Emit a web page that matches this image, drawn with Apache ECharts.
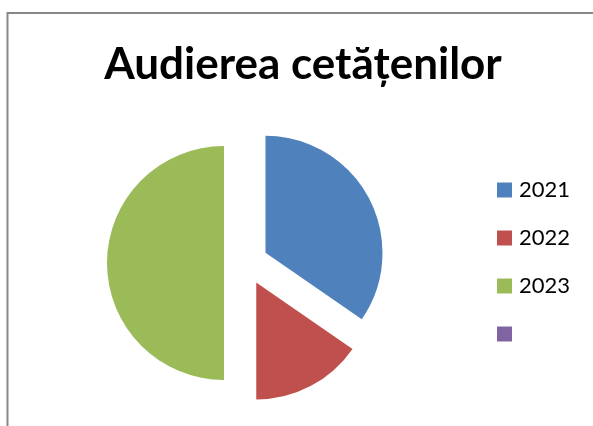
<!DOCTYPE html>
<html lang="ro">
<head>
	<meta charset="UTF-8">
	<title>Audierea cetățenilor</title>
	<style>
		html, body { margin: 0; padding: 0; background: #fff; }
	</style>
</head>
<body>
	<div id="chart" style="width:593px;height:426px;"></div>
	<script src="https://cdn.jsdelivr.net/npm/echarts@6/dist/echarts.min.js"></script>
	<script>
		// date
		const years = ['2021', '2022', '2023', ' '];
		const values = [9, 4, 13, 0];
		const colors = ['#4F81BD', '#C0504D', '#9BBB59', '#8064A2'];
		const exploded = [true, true, true, false];

		let myChart = echarts.init(document.getElementById('chart'));

		let pieData = years.map(function (name, i) {
			return {
				name: name,
				value: values[i],
				selected: exploded[i],
				itemStyle: { color: colors[i] }
			};
		});

		let option = {
			animation: false,
			backgroundColor: '#fff',
			title: {
				text: 'Audierea cetățenilor',
				left: 303,
				textAlign: 'center',
				top: 43,
				padding: 0,
				textStyle: {
					fontFamily: 'Lato',
					fontWeight: 'bold',
					fontSize: 44,
					color: '#000'
				}
			},
			legend: {
				orient: 'vertical',
				left: 497,
				top: 179,
				padding: 0,
				itemWidth: 15,
				itemHeight: 15,
				itemGap: 26,
				icon: 'rect',
				data: years,
				selectedMode: false,
				textStyle: {
					fontFamily: 'Lato',
					fontSize: 22,
					lineHeight: 22,
					color: '#000',
					padding: [0, 0, 0, 2]
				}
			},
			graphic: [{
				// chenarul diagramei
				type: 'rect',
				silent: true,
				shape: { x: 7.5, y: 13, width: 700, height: 500 },
				style: { fill: 'none', stroke: '#878787', lineWidth: 2 }
			}],
			series: [{
				type: 'pie',
				center: [246, 263],
				radius: 117,
				startAngle: 90,
				clockwise: true,
				selectedMode: 'multiple',
				selectedOffset: 22,
				label: { show: false },
				labelLine: { show: false },
				emphasis: { scale: false },
				select: { itemStyle: { borderWidth: 0 } },
				data: pieData
			}]
		};

		myChart.setOption(option);
	</script>
</body>
</html>
